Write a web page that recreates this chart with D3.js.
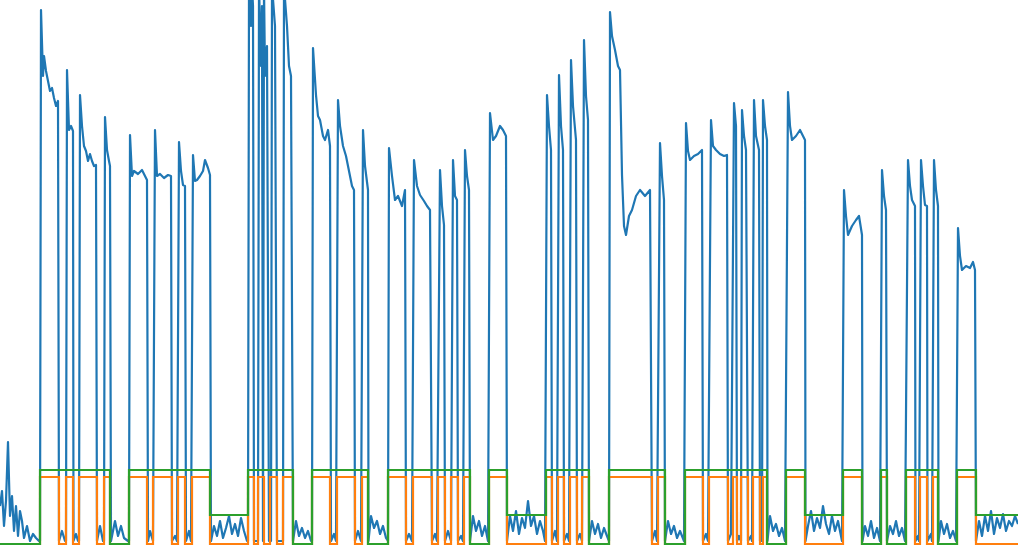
<!DOCTYPE html>
<html>
<head>
<meta charset="utf-8">
<script src="https://cdn.jsdelivr.net/npm/d3@7"></script>
<style>
  body { margin: 0; background: #fff; }
</style>
</head>
<body>
<div id="chart"></div>
<script>
// blue signal: [time, value]
const signal = [
  [0,40],[2,55],[4,20],[6,45],[8,104],[10,30],[12,50],[14,15],[16,40],[18,10],[20,35],[22,25],[24,8],[27,20],[30,5],[33,12],[36,8],[39,5],
  [40,5],[41,536],[43,470],[44,490],[46,475],[48,465],[50,455],[52,458],[54,448],[56,440],[58,445],[59,5],[62,15],[65,5],
  [66,5],[67,476],[69,416],[71,420],[73,415],[73.5,5],[76,12],[78,5],
  [79,5],[80,451],[82,420],[84,400],[86,395],[88,385],[90,392],[92,385],[94,380],[96,381],[97,5],[100,20],[103,5],
  [104,5],[105,429],[107,396],[109,385],[110,380],[111,5],[115,25],[118,10],[121,20],[124,8],[128,5],
  [129,5],[130,411],[132,370],[134,375],[138,372],[142,376],[145,370],[147,366],[148,5],[150,15],[153,5],
  [155,416],[157,370],[160,372],[164,368],[168,371],[171,370],[172,5],[175,10],[177,5],
  [179,404],[181,375],[183,361],[185,360],[186,5],[189,15],[191,5],
  [193,391],[195,365],[197,366],[200,370],[203,375],[205,386],[208,378],[210,371],[211,5],
  [214,20],[217,10],[220,25],[223,8],[226,18],[229,30],[232,12],[235,22],[238,10],[241,28],[244,15],[247,5],
  [248,5],[249,560],[251,520],[252,560],[253,540],[254,5],[257,5],
  [258,5],[259,560],[261,480],[262,540],[263,5],[264,560],[265,470],[267,500],[269,5],[271,5],
  [272,560],[275,520],[277,5],[283,5],[284,560],[287,520],[289,480],[291,470],[293,5],
  [296,25],[299,10],[302,18],[305,8],[308,15],[311,5],
  [312,5],[313,498],[316,451],[318,430],[320,426],[323,410],[325,406],[328,416],[330,400],[331,5],[334,12],[336,5],
  [338,446],[340,420],[343,400],[346,390],[349,375],[352,360],[354,356],[355,5],[358,15],[361,5],
  [363,416],[365,380],[368,356],[368.5,5],
  [371,30],[374,18],[377,25],[380,12],[383,20],[386,8],[388,5],
  [389,398],[392,370],[395,346],[398,350],[402,340],[405,356],[406,5],[409,12],[412,5],
  [414,386],[417,360],[420,351],[424,345],[427,340],[430,336],[432,5],[435,12],[437,5],
  [440,376],[442,340],[444,321],[445,5],[448,15],[451,5],
  [453,386],[455,350],[457,346],[458,5],[461,10],[463,5],
  [465,396],[467,370],[469,356],[470,5],
  [473,30],[476,15],[479,25],[482,10],[485,20],[488,5],
  [490,433],[493,406],[496,410],[500,420],[503,416],[506,410],[507,5],
  [510,30],[513,15],[516,35],[519,12],[522,28],[525,18],[528,45],[531,20],[534,30],[537,12],[540,25],[543,15],[545,5],
  [547,451],[549,420],[551,396],[552,5],[555,15],[557,5],
  [559,471],[561,420],[563,396],[564,5],[567,12],[569,5],
  [571,486],[573,440],[576,406],[577,5],[580,12],[582,5],
  [584,506],[586,450],[588,426],[589,5],
  [592,25],[595,12],[598,22],[601,8],[604,18],[607,10],[609,5],
  [610,534],[612,510],[615,496],[618,480],[620,476],[622,371],[624,320],[626,311],[629,330],[632,336],[636,350],[640,356],[645,350],[650,356],[652,5],[655,15],[657,5],
  [660,403],[662,370],[664,346],[665,5],
  [668,25],[671,12],[674,20],[677,8],[680,15],[684,5],
  [686,423],[688,395],[690,386],[694,390],[698,392],[702,396],[703,5],[706,12],[708,5],
  [711,426],[713,400],[716,396],[720,392],[724,390],[727,391],[728,5],[731,12],
  [734,443],[736,420],[737,5],[739,10],[741,5],
  [742,436],[744,410],[746,396],[748,5],[751,10],[752,5],
  [754,446],[756,410],[759,396],[760,5],[762,5],
  [763,446],[765,420],[767,406],[767.5,5],
  [770,30],[773,15],[776,22],[779,10],[782,18],[785,5],
  [788,454],[790,420],[792,406],[796,410],[800,416],[803,410],[805,406],[805.5,5],
  [808,20],[811,35],[814,15],[817,28],[820,18],[823,40],[826,22],[829,12],[832,30],[835,15],[838,25],[842,5],
  [844,356],[846,330],[848,311],[852,320],[856,326],[859,330],[862,311],[862.5,5],
  [865,20],[868,10],[871,25],[874,8],[877,18],[880,5],
  [882,376],[884,350],[886,336],[887,5],
  [890,20],[893,12],[896,25],[899,10],[902,18],[905,5],
  [908,386],[910,360],[912,346],[915,340],[915.5,5],[918,10],[919,5],
  [921,386],[923,360],[925,341],[927,340],[927.5,5],[931,12],[932,5],
  [934,386],[936,356],[938,340],[938.5,5],
  [941,25],[944,12],[947,22],[950,8],[953,15],[956,5],
  [958,318],[960,290],[962,276],[966,280],[970,278],[973,284],[975,276],[976,5],
  [979,25],[982,10],[985,30],[988,15],[991,35],[994,12],[997,28],[1000,18],[1003,32],[1006,15],[1009,25],[1012,20],[1015,30],[1018,22]
];

// green state (step after)
const greenT = [0,40,110,129,210,248,293,312,368,388,470,489,507,546,589,609,665,685,767,786,805,843,862,881,887,906,938,957,976,1018];
const greenS = ["L","H","L","H","M","H","L","H","L","H","L","H","M","H","L","H","L","H","L","H","M","H","L","H","L","H","L","H","M","M"];
const greenLevels = { L: 2, M: 31, H: 76 };

// orange state (step after)
const orangeT = [0,40,59,66,73,79,97,104,110,129,147,153,172,178,185,192,210,248,254,258,264,270,277,283,293,312,330,337,355,362,368,388,406,413,432,438,445,451,458,464,470,489,507,546,552,558,564,570,577,582,589,609,652,658,665,685,703,709,728,733,737,741,748,753,760,763,767,786,805,843,862,881,887,906,915,920,927,933,938,957,976,1018];
const orangeLevels = { L: 2, H: 69 };

const width = 1018;
const height = 554;

const x = d3.scaleLinear().domain([0, 1018]).range([0, width]);
const y = d3.scaleLinear().domain([0, 546]).range([546, 0]);

const svg = d3.select("#chart")
  .append("svg")
  .attr("width", width)
  .attr("height", height);

svg.append("defs").append("clipPath").attr("id", "clip")
  .append("rect").attr("x", 0).attr("y", 0).attr("width", width).attr("height", height);

const g = svg.append("g").attr("clip-path", "url(#clip)");

const line = d3.line().x(d => x(d[0])).y(d => y(d[1]));
const stepLine = d3.line().x(d => x(d[0])).y(d => y(d[1])).curve(d3.curveStepAfter);

g.append("path")
  .datum(signal)
  .attr("fill", "none")
  .attr("stroke", "#1f77b4")
  .attr("stroke-width", 2.2)
  .attr("stroke-linejoin", "round")
  .attr("d", line);

// orange alternates L/H starting low, last stays low
const orangeData = orangeT.map((t, i) => [t, i === orangeT.length - 1 ? orangeLevels.L : (i % 2 === 0 ? orangeLevels.L : orangeLevels.H)]);
g.append("path")
  .datum(orangeData)
  .attr("fill", "none")
  .attr("stroke", "#ff7f0e")
  .attr("stroke-width", 2.2)
  .attr("d", stepLine);

const greenData = greenT.map((t, i) => [t, greenLevels[greenS[i]]]);
g.append("path")
  .datum(greenData)
  .attr("fill", "none")
  .attr("stroke", "#2ca02c")
  .attr("stroke-width", 2.2)
  .attr("d", stepLine);
</script>
</body>
</html>
